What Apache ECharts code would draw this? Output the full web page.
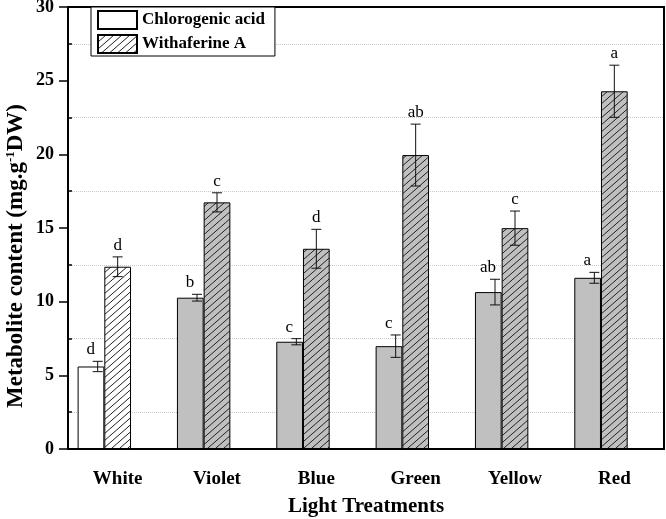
<!DOCTYPE html>
<html>
<head>
<meta charset="utf-8">
<script src="https://cdn.jsdelivr.net/npm/echarts@6/dist/echarts.min.js"></script>
<style>html,body{margin:0;padding:0;background:#fff}#c{width:666px;height:519px}</style>
</head>
<body>
<div id="c"></div>
<script>
const categories = ['White', 'Violet', 'Blue', 'Green', 'Yellow', 'Red'];
const chlorogenic = [5.6, 10.27, 7.28, 6.98, 10.65, 11.62];
const chlorogenicErr = [0.35, 0.23, 0.21, 0.76, 0.87, 0.37];
const withaferine = [12.37, 16.74, 13.59, 19.95, 14.99, 24.28];
const withaferineErr = [0.67, 0.65, 1.32, 2.1, 1.16, 1.77];
const chlorogenicLetters = ['d', 'b', 'c', 'c', 'ab', 'a'];
const withaferineLetters = ['d', 'c', 'd', 'ab', 'c', 'a'];
const yTicks = { min: 0, max: 30, interval: 5 };

const SERIF = '"Liberation Serif", "Times New Roman", serif';
const GRAY = '#c0c0c0';

function hatch(bg) {
  const w = 8, h = 7;
  const cv = document.createElement('canvas');
  cv.width = w; cv.height = h;
  const ctx = cv.getContext('2d');
  ctx.fillStyle = bg; ctx.fillRect(0, 0, w, h);
  ctx.strokeStyle = '#222'; ctx.lineWidth = 1;
  ctx.beginPath();
  ctx.moveTo(-w, 2 * h); ctx.lineTo(2 * w, -h);
  ctx.moveTo(-2 * w, 2 * h); ctx.lineTo(w, -h);
  ctx.moveTo(0, 2 * h); ctx.lineTo(3 * w, -h);
  ctx.stroke();
  return { image: cv, repeat: 'repeat' };
}
const hatchWhite = hatch('#ffffff');
const hatchGray = hatch(GRAY);

function errSeries(values, errs, letters, errOffset, labelOffset) {
  return {
    type: 'custom', xAxisIndex: 0, yAxisIndex: 0, z: 5, clip: false, silent: true,
    data: values.map((v, i) => [i, v, errs[i]]),
    renderItem: function (params, api) {
      const i = api.value(0), v = api.value(1), e = api.value(2);
      const t = api.coord([i, v + e]);
      const b = api.coord([i, v - e]);
      const x = t[0] + errOffset;
      const cw = 5;
      const ls = { stroke: '#111', lineWidth: 1 };
      return {
        type: 'group',
        children: [
          { type: 'line', shape: { x1: x, y1: t[1], x2: x, y2: b[1] }, style: ls },
          { type: 'line', shape: { x1: x - cw, y1: t[1], x2: x + cw, y2: t[1] }, style: ls },
          { type: 'line', shape: { x1: x - cw, y1: b[1], x2: x + cw, y2: b[1] }, style: ls },
          { type: 'text', x: t[0] + labelOffset, y: t[1] - 3,
            style: { text: letters[params.dataIndex], align: 'center', verticalAlign: 'bottom',
              fontSize: 17, fontFamily: SERIF, fill: '#000' } }
        ]
      };
    }
  };
}

const chart = echarts.init(document.getElementById('c'), null, { renderer: 'canvas' });
const plotH = 519 - 7 - 70;
const off = 2.5 * plotH / 30;
chart.setOption({
  animation: false,
  backgroundColor: '#fff',
  grid: [
    { left: 68, right: 2, top: 7, bottom: 70, show: true, borderColor: '#000', borderWidth: 2,
      backgroundColor: 'transparent', containLabel: false, outerBoundsMode: 'none' },
    { left: 68, right: 2, top: 7 + off, bottom: 70 + off, show: false, containLabel: false, outerBoundsMode: 'none' }
  ],
  legend: {
    data: [{ name: 'Chlorogenic acid', icon: 'rect' }, { name: 'Withaferine A', icon: 'rect' }],
    orient: 'vertical', left: 91, top: 7,
    padding: [3, 10, 2, 6], itemGap: 4, itemWidth: 39, itemHeight: 18,
    backgroundColor: '#fff', borderColor: '#000', borderWidth: 1,
    textStyle: { fontFamily: SERIF, fontWeight: 'bold', fontSize: 17, color: '#000' },
    selectedMode: false, z: 10
  },
  xAxis: [
    { type: 'category', gridIndex: 0, data: categories, boundaryGap: true,
      axisLine: { lineStyle: { color: '#000', width: 2 } },
      axisTick: { alignWithLabel: true, length: 9, lineStyle: { color: '#000', width: 1.5 } },
      axisLabel: { fontFamily: SERIF, fontWeight: 'bold', fontSize: 19, color: '#000', margin: 21 },
      name: 'Light Treatments', nameLocation: 'middle', nameGap: 47,
      nameTextStyle: { fontFamily: SERIF, fontWeight: 'bold', fontSize: 21, color: '#000' } },
    { type: 'category', gridIndex: 0, data: categories, boundaryGap: true,
      axisLine: { show: false },
      axisTick: { alignWithLabel: false, length: 4, lineStyle: { color: '#000', width: 1.5 } },
      axisLabel: { show: false } },
    { type: 'value', gridIndex: 1, show: false }
  ],
  yAxis: [
    { type: 'value', gridIndex: 0, min: yTicks.min, max: yTicks.max, interval: yTicks.interval,
      axisLine: { show: true, lineStyle: { color: '#000', width: 2 } },
      axisTick: { show: true, length: 9, lineStyle: { color: '#000', width: 1.5 } },
      axisLabel: { fontFamily: SERIF, fontWeight: 'bold', fontSize: 18, color: '#000', margin: 14 },
      splitLine: { show: false } },
    { type: 'value', gridIndex: 1, min: yTicks.min + 2.5, max: yTicks.max - 2.5, interval: yTicks.interval,
      axisLine: { show: false },
      axisTick: { show: true, inside: true, length: 4, lineStyle: { color: '#000', width: 1.5 } },
      axisLabel: { show: false },
      splitLine: { show: true, lineStyle: { color: '#c8c8c8', type: 'dotted', width: 1 } } }
  ],
  graphic: [
    { type: 'text', x: 16, y: 256, rotation: Math.PI / 2,
      style: {
        text: '{n|Metabolite content (mg.g}{s|-1}{n|DW)}',
        align: 'center', verticalAlign: 'middle',
        rich: {
          n: { fontFamily: SERIF, fontWeight: 'bold', fontSize: 23, fill: '#000', lineHeight: 24 },
          s: { fontFamily: SERIF, fontWeight: 'bold', fontSize: 13, fill: '#000', verticalAlign: 'top', lineHeight: 24 }
        }
      } }
  ],
  series: [
    { name: 'Chlorogenic acid', type: 'bar', xAxisIndex: 0, yAxisIndex: 0,
      barWidth: 26.7, barGap: '0%',
      itemStyle: { color: '#fff', borderColor: '#000', borderWidth: 1 },
      data: chlorogenic.map((v, i) => i === 0 ? v : { value: v, itemStyle: { color: GRAY } }) },
    { name: 'Withaferine A', type: 'bar', xAxisIndex: 0, yAxisIndex: 0,
      barWidth: 26.7, barGap: '0%',
      itemStyle: { color: hatchWhite, borderColor: '#000', borderWidth: 1 },
      data: withaferine.map((v, i) => i === 0 ? v : { value: v, itemStyle: { color: hatchGray } }) },
    { name: '_pad', type: 'bar', xAxisIndex: 0, yAxisIndex: 0, barWidth: 26.7, barGap: '0%',
      data: categories.map(() => null) },
    errSeries(chlorogenic, chlorogenicErr, chlorogenicLetters, -20, -27),
    errSeries(withaferine, withaferineErr, withaferineLetters, 0, 0)
  ]
});
</script>
</body>
</html>
